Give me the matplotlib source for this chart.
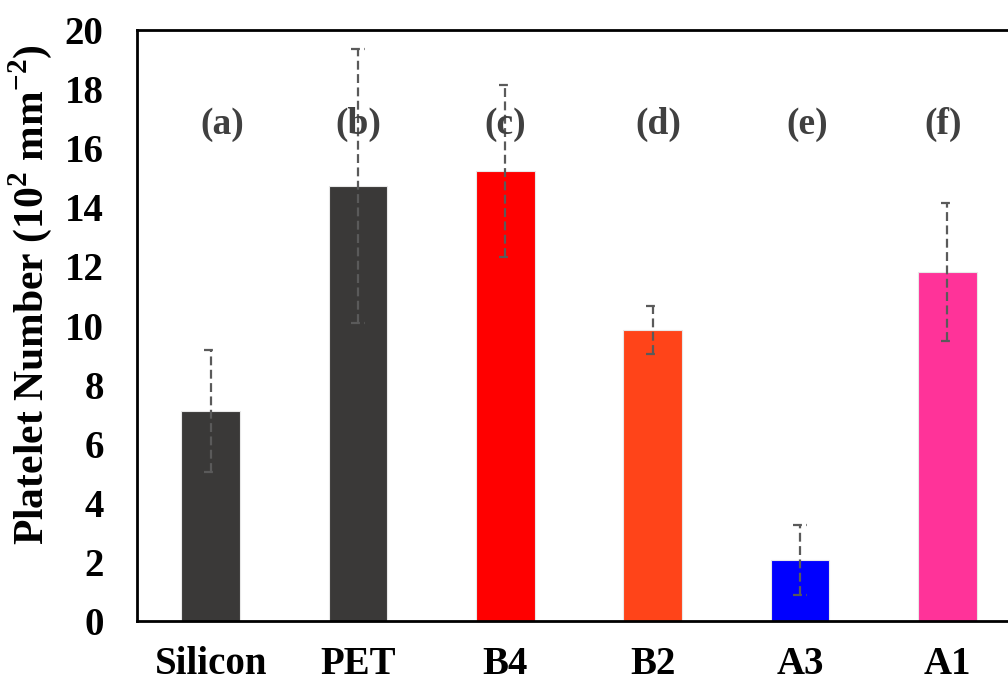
import matplotlib
matplotlib.use("Agg")
import matplotlib.pyplot as plt
import numpy as np

categories = ["Silicon", "PET", "B4", "B2", "A3", "A1"]
values = [7.1, 14.72, 15.23, 9.85, 2.06, 11.81]
errors = [2.07, 4.65, 2.9, 0.8, 1.18, 2.35]
bar_colors = ["#3a3938", "#3a3938", "#ff0000", "#ff4419", "#0000ff", "#ff3399"]
letters = ["(a)", "(b)", "(c)", "(d)", "(e)", "(f)"]
letter_offsets = [0.08, 0.0, 0.0, 0.04, 0.05, -0.03]
letter_y = 16.8
yticks = list(range(0, 21, 2))

plt.rcParams['font.family'] = ['Liberation Serif', 'DejaVu Serif']
plt.rcParams['mathtext.fontset'] = 'custom'
plt.rcParams['mathtext.rm'] = 'Liberation Serif'
plt.rcParams['mathtext.bf'] = 'Liberation Serif:bold'

W, H = 1008, 681
fig = plt.figure(figsize=(W / 100, H / 100), dpi=100)
left, right, top, bottom = 137, 1021, 30, 621
ax = fig.add_axes([left / W, 1 - bottom / H, (right - left) / W, (bottom - top) / H])

x = np.arange(len(categories))
ax.bar(x, values, width=0.4, color=bar_colors, edgecolor="#e8e8e8", linewidth=0.8, zorder=2)

err_col = "#5a5a5a"
ax.vlines(x, np.array(values) - np.array(errors), np.array(values) + np.array(errors),
          colors=err_col, linestyles=(0, (4, 2)), linewidth=1.6, zorder=3)
cap_half = 0.045
for xi, v, e in zip(x, values, errors):
    for yy in (v - e, v + e):
        ax.hlines(yy, xi - cap_half, xi + cap_half, colors=err_col,
                  linestyles=(0, (4, 2)), linewidth=1.6, zorder=3)

for xi, lab, off in zip(x, letters, letter_offsets):
    ax.text(xi + off, letter_y, lab, ha="center", va="center", fontsize=27,
            fontweight="bold", color="#404040", zorder=4)

ax.set_xlim(-0.5, len(categories) - 0.5)
ax.set_ylim(0, 20)
ax.set_yticks(yticks)
ax.set_yticklabels([str(t) for t in yticks], fontsize=28, fontweight="bold")
ax.set_xticks(x)
ax.set_xticklabels(categories, fontsize=28, fontweight="bold")
ax.tick_params(axis="both", length=0)
ax.tick_params(axis="y", pad=24)
ax.tick_params(axis="x", pad=18)

for s in ["left", "bottom", "top", "right"]:
    ax.spines[s].set_linewidth(2.0)
    ax.spines[s].set_color("black")

ax.set_ylabel(r"Platelet Number (10$^{\mathbf{2}}$ mm$^{\mathbf{-2}}$)", fontsize=30,
              fontweight="bold")
ax.yaxis.set_label_coords(-0.094, 0.553)

fig.savefig("out.png", dpi=100)
